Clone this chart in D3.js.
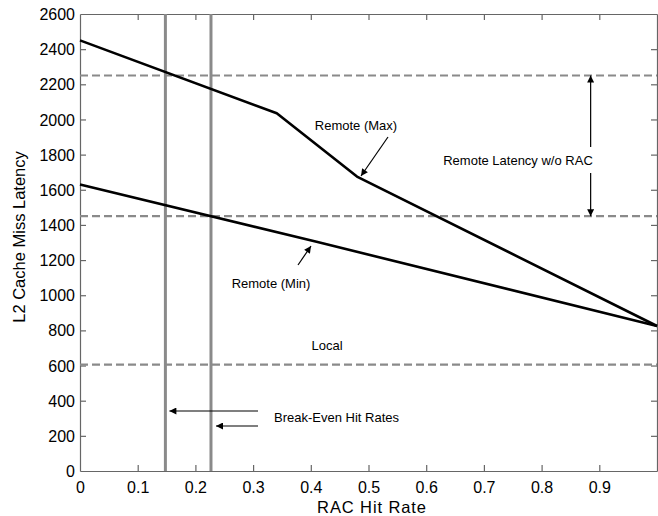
<!DOCTYPE html>
<html>
<head>
<meta charset="utf-8">
<script src="https://cdn.jsdelivr.net/npm/d3@7"></script>
<style>
  html, body { margin: 0; padding: 0; background: #fff; }
  svg { display: block; font-family: Arial, "Liberation Sans", sans-serif; }
</style>
</head>
<body>
<svg id="chart" width="658" height="516"></svg>
<script>
// Latency curves (RAC hit rate -> cycles)
const remoteMax = [[0, 2450], [0.341, 2035], [0.48, 1675], [1.0, 825]];
const remoteMin = [[0, 1630], [0.41, 1304], [1.0, 825]];
// Reference levels
const levelRemoteHigh = 2250;
const levelRemoteLow = 1450;
const levelLocal = 605;
// Break-even hit rates
const breakEven = [0.148, 0.227];
// Tick values
const xTicks = [0, 0.1, 0.2, 0.3, 0.4, 0.5, 0.6, 0.7, 0.8, 0.9, 1.0];
const xTickLabels = ["0", "0.1", "0.2", "0.3", "0.4", "0.5", "0.6", "0.7", "0.8", "0.9", ""];
const yTicks = d3.range(0, 2601, 200);

(function () {
const svg = d3.select("#chart");
const mLeft = 80, mRight = 657, mTop = 14, mBottom = 471;
const x = d3.scaleLinear().domain([0, 1]).range([mLeft, mRight]);
const y = d3.scaleLinear().domain([0, 2600]).range([mBottom, mTop]);

const axisColor = "#666";
const gray = "#8a8a8a";

// arrow marker
svg.append("defs").append("marker")
  .attr("id", "arrow").attr("viewBox", "0 0 10 10")
  .attr("refX", 10).attr("refY", 5)
  .attr("markerWidth", 9).attr("markerHeight", 7)
  .attr("markerUnits", "userSpaceOnUse")
  .attr("orient", "auto")
  .append("path").attr("d", "M0,0 L10,5 L0,10 z").attr("fill", "#000");

// axes frame and ticks
const gx = svg.append("g").attr("transform", `translate(0,${mBottom})`)
  .call(d3.axisBottom(x).tickValues(xTicks).tickFormat((d, i) => xTickLabels[i]).tickSizeInner(-6).tickSizeOuter(0).tickPadding(12));
const gxTop = svg.append("g").attr("transform", `translate(0,${mTop})`)
  .call(d3.axisTop(x).tickValues(xTicks).tickFormat("").tickSizeInner(-6).tickSizeOuter(0));
const gy = svg.append("g").attr("transform", `translate(${mLeft},0)`)
  .call(d3.axisLeft(y).tickValues(yTicks).tickFormat(d3.format("d")).tickSizeInner(-6).tickSizeOuter(0).tickPadding(5));
const gyRight = svg.append("g").attr("transform", `translate(${mRight},0)`)
  .call(d3.axisRight(y).tickValues(yTicks).tickFormat("").tickSizeInner(-6).tickSizeOuter(0));

[gx, gxTop, gy, gyRight].forEach(g => {
  g.selectAll("path.domain").attr("stroke", axisColor).attr("stroke-width", 1.2);
  g.selectAll(".tick line").attr("stroke", axisColor).attr("stroke-width", 1.2);
  g.selectAll(".tick text").attr("fill", "#000").attr("font-size", 16).attr("font-family", "Arial, 'Liberation Sans', sans-serif");
});
gx.selectAll(".tick line").filter(d => d === 0 || d === 1).remove();
gxTop.selectAll(".tick line").filter(d => d === 0 || d === 1).remove();
gy.selectAll(".tick line").filter(d => d === 0 || d === 2600).remove();
gyRight.selectAll(".tick line").filter(d => d === 0 || d === 2600).remove();
gx.selectAll(".tick text").attr("dy", "0.6em");
gy.selectAll(".tick text").attr("dy", "0.35em");

// horizontal reference levels
[levelRemoteHigh, levelRemoteLow, levelLocal].forEach(v => {
  svg.append("line")
    .attr("x1", x(0)).attr("x2", x(1))
    .attr("y1", y(v)).attr("y2", y(v))
    .attr("stroke", gray).attr("stroke-width", 2.2)
    .attr("stroke-dasharray", "8,4");
});

// break-even verticals
breakEven.forEach(v => {
  svg.append("line")
    .attr("x1", x(v)).attr("x2", x(v))
    .attr("y1", y(2600)).attr("y2", y(0))
    .attr("stroke", gray).attr("stroke-width", 3);
});

// latency curves
const line = d3.line().x(d => x(d[0])).y(d => y(d[1]));
[remoteMax, remoteMin].forEach(s => {
  svg.append("path").datum(s).attr("d", line)
    .attr("fill", "none").attr("stroke", "#000").attr("stroke-width", 2.6)
    .attr("stroke-linejoin", "round");
});

// annotations
function arrow(x1, y1, x2, y2) {
  svg.append("line").attr("x1", x1).attr("y1", y1).attr("x2", x2).attr("y2", y2)
    .attr("stroke", "#000").attr("stroke-width", 1.2).attr("marker-end", "url(#arrow)");
}
function label(txt, tx, ty, anchor) {
  svg.append("text").attr("x", tx).attr("y", ty).attr("dy", "0.35em")
    .attr("text-anchor", anchor || "start").attr("font-size", 13).attr("fill", "#000").text(txt);
}

label("Remote (Max)", 356, 125, "middle");
arrow(388, 137, 361, 176);

label("Remote Latency w/o RAC", 518, 160, "middle");
arrow(x(0.885), 147, x(0.885), y(levelRemoteHigh));
arrow(x(0.885), 173, x(0.885), y(levelRemoteLow));

label("Remote (Min)", 271, 283, "middle");
arrow(298, 265, 311, 246);

label("Local", 327, 345, "middle");

label("Break-Even Hit Rates", 274, 417, "start");
arrow(258, 411, x(breakEven[0]) + 4, 411);
arrow(258, 426, x(breakEven[1]) + 5, 426);

// axis titles
svg.append("text").attr("x", 372).attr("y", 513)
  .attr("text-anchor", "middle").attr("font-size", 16.5).attr("letter-spacing", 0.9)
  .attr("fill", "#000").text("RAC Hit Rate");
svg.append("text").attr("transform", `translate(25,237) rotate(-90)`)
  .attr("text-anchor", "middle").attr("font-size", 16.5).attr("fill", "#000").text("L2 Cache Miss Latency");
})();
</script>
</body>
</html>
